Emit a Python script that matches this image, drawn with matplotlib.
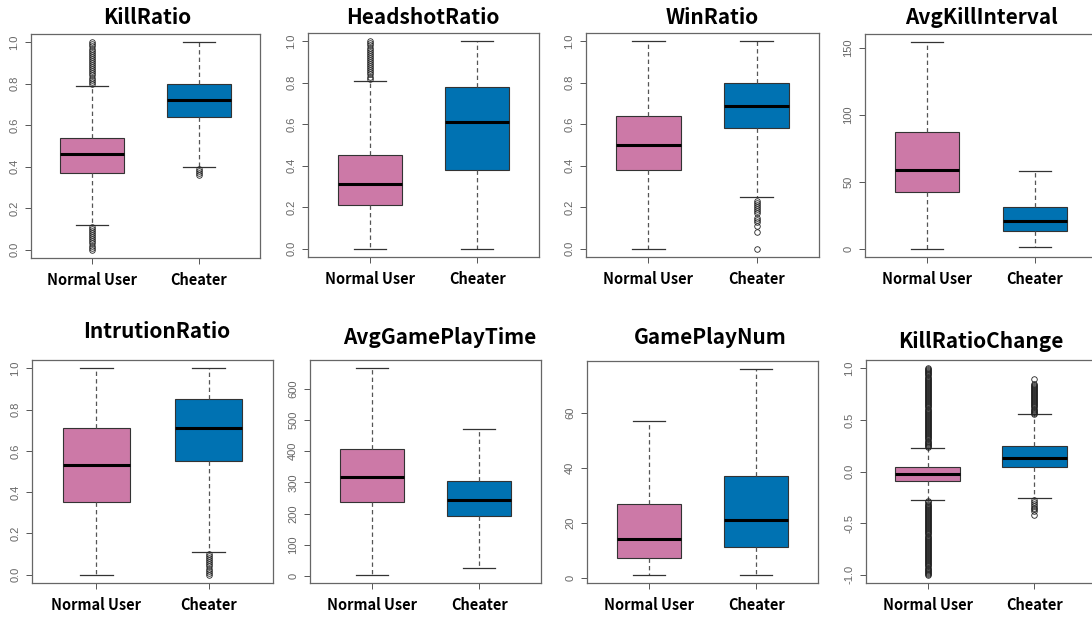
import matplotlib
matplotlib.use("Agg")
import matplotlib.pyplot as plt

plt.rcParams['font.family'] = ['Liberation Sans', 'DejaVu Sans']

W, H = 1092, 617
groups = ["Normal User", "Cheater"]
box_colors = ["#CC79A7", "#0072B2"]

# five-number summaries per group: whisker low, Q1, median, Q3, whisker high
kill_ratio = [[0.12, 0.37, 0.46, 0.54, 0.79], [0.40, 0.64, 0.72, 0.80, 1.00]]
headshot_ratio = [[0.00, 0.21, 0.31, 0.45, 0.81], [0.00, 0.38, 0.61, 0.78, 1.00]]
win_ratio = [[0.00, 0.38, 0.50, 0.64, 1.00], [0.25, 0.58, 0.69, 0.80, 1.00]]
avg_kill_interval = [[0, 42, 59, 87, 154], [1, 13, 21, 31, 58]]
intrution_ratio = [[0.00, 0.35, 0.53, 0.71, 1.00], [0.11, 0.55, 0.71, 0.85, 1.00]]
avg_game_play_time = [[5, 238, 316, 408, 665], [28, 193, 244, 305, 470]]
game_play_num = [[1, 7, 14, 27, 57], [1, 11, 21, 37, 76]]
kill_ratio_change = [[-0.28, -0.09, -0.02, 0.04, 0.23], [-0.26, 0.04, 0.13, 0.25, 0.555]]

# outliers per group
kill_ratio_out = [
    [0.00, 0.01, 0.02, 0.03, 0.04, 0.05, 0.06, 0.07, 0.08, 0.09, 0.10, 0.11,
     0.80, 0.81, 0.82, 0.83, 0.84, 0.85, 0.86, 0.87, 0.88, 0.89, 0.90,
     0.91, 0.92, 0.93, 0.94, 0.95, 0.96, 0.97, 0.98, 0.99, 1.00],
    [0.36, 0.37, 0.38, 0.39],
]
headshot_ratio_out = [
    [0.82, 0.83, 0.84, 0.85, 0.86, 0.87, 0.88, 0.89, 0.90, 0.91,
     0.92, 0.93, 0.94, 0.95, 0.96, 0.97, 0.98, 0.99, 1.00],
    [],
]
win_ratio_out = [
    [],
    [0.00, 0.08, 0.11, 0.13, 0.14, 0.15, 0.17, 0.18, 0.19, 0.20, 0.21, 0.22, 0.23],
]
avg_kill_interval_out = [[], []]
intrution_ratio_out = [
    [],
    [0.00, 0.01, 0.02, 0.03, 0.04, 0.05, 0.06, 0.07, 0.08, 0.09, 0.10],
]
avg_game_play_time_out = [[], []]
game_play_num_out = [[], []]
kill_ratio_change_out = [
    [-1.00, -0.99, -0.98, -0.97, -0.96, -0.95, -0.94, -0.93, -0.92, -0.91,
     -0.90, -0.89, -0.88, -0.87, -0.86, -0.85, -0.84, -0.83, -0.82, -0.81,
     -0.80, -0.79, -0.78, -0.77, -0.76, -0.75, -0.74, -0.73, -0.72, -0.71,
     -0.70, -0.69, -0.68, -0.67, -0.66, -0.65, -0.64, -0.63, -0.62, -0.61,
     -0.60, -0.59, -0.58, -0.57, -0.56, -0.55, -0.54, -0.53, -0.52, -0.51,
     -0.50, -0.49, -0.48, -0.47, -0.46, -0.45, -0.44, -0.43, -0.42, -0.41,
     -0.40, -0.39, -0.38, -0.37, -0.36, -0.35, -0.34, -0.33, -0.32, -0.31,
     -0.30, -0.29,
     0.24, 0.25, 0.26, 0.27, 0.28, 0.29, 0.30, 0.31, 0.32, 0.33,
     0.34, 0.35, 0.36, 0.37, 0.38, 0.39, 0.40, 0.41, 0.42, 0.43,
     0.44, 0.45, 0.46, 0.47, 0.48, 0.49, 0.50, 0.51, 0.52, 0.53,
     0.54, 0.55, 0.56, 0.57, 0.58, 0.59, 0.60, 0.61, 0.62, 0.63,
     0.64, 0.65, 0.66, 0.67, 0.68, 0.69, 0.70, 0.71, 0.72, 0.73,
     0.74, 0.75, 0.76, 0.77, 0.78, 0.79, 0.80, 0.81, 0.82, 0.83,
     0.84, 0.85, 0.86, 0.87, 0.88, 0.89, 0.90, 0.91, 0.92, 0.93,
     0.94, 0.95, 0.96, 0.97, 0.98, 0.99, 1.00],
    [-0.42, -0.38, -0.36, -0.35, -0.33, -0.31, -0.30, -0.28,
     0.56, 0.57, 0.58, 0.59, 0.60, 0.61, 0.62, 0.63, 0.64, 0.65, 0.66,
     0.67, 0.68, 0.69, 0.70, 0.71, 0.72, 0.73, 0.74, 0.75, 0.76, 0.77,
     0.78, 0.79, 0.80, 0.81, 0.82, 0.83, 0.84, 0.85, 0.90],
]

titles = ["KillRatio", "HeadshotRatio", "WinRatio", "AvgKillInterval",
          "IntrutionRatio", "AvgGamePlayTime", "GamePlayNum", "KillRatioChange"]
summaries = [kill_ratio, headshot_ratio, win_ratio, avg_kill_interval,
             intrution_ratio, avg_game_play_time, game_play_num, kill_ratio_change]
outliers = [kill_ratio_out, headshot_ratio_out, win_ratio_out, avg_kill_interval_out,
            intrution_ratio_out, avg_game_play_time_out, game_play_num_out,
            kill_ratio_change_out]
yticks = [
    [0, 0.2, 0.4, 0.6, 0.8, 1.0],
    [0, 0.2, 0.4, 0.6, 0.8, 1.0],
    [0, 0.2, 0.4, 0.6, 0.8, 1.0],
    [0, 50, 100, 150],
    [0, 0.2, 0.4, 0.6, 0.8, 1.0],
    [0, 100, 200, 300, 400, 500, 600],
    [0, 20, 40, 60],
    [-1.0, -0.5, 0.0, 0.5, 1.0],
]
ytick_fmt = ["{:.1f}", "{:.1f}", "{:.1f}", "{:g}", "{:.1f}", "{:g}", "{:g}", "{:.1f}"]

# panel frames in pixels: left, right, top, bottom
frames = [
    (31, 260, 34, 258), (308, 539, 33, 257), (586, 819, 33, 257), (865, 1097, 34, 257),
    (32, 273, 360, 583), (310, 541, 360, 583), (587, 818, 361, 583), (866, 1096, 360, 583),
]
title_pos = [(147, 17), (423, 17), (712, 17), (981, 17),
             (157, 332), (440, 338), (710, 338), (981, 342)]

fig = plt.figure(figsize=(W / 100, H / 100), dpi=100)

for i in range(8):
    l, r, t, b = frames[i]
    ax = fig.add_axes([l / W, 1 - b / H, (r - l) / W, (b - t) / H])
    stats = []
    for g in range(2):
        lo, q1, med, q3, hi = summaries[i][g]
        stats.append(dict(whislo=lo, q1=q1, med=med, q3=q3, whishi=hi,
                          fliers=outliers[i][g], label=groups[g]))
    parts = ax.bxp(stats, positions=[1, 2], widths=0.6, capwidths=0.3,
                   patch_artist=True, showfliers=True,
                   boxprops=dict(edgecolor="#333333", linewidth=0.8),
                   medianprops=dict(color="black", linewidth=2.2),
                   whiskerprops=dict(color="#555555", linewidth=0.9, linestyle=(0, (3.5, 2.5))),
                   capprops=dict(color="#333333", linewidth=0.9),
                   flierprops=dict(marker="o", markerfacecolor="none",
                                   markeredgecolor="#222222", markersize=4,
                                   markeredgewidth=0.6))
    for patch, c in zip(parts["boxes"], box_colors):
        patch.set_facecolor(c)

    # R-style range: data extent padded by 4%
    vals = []
    for g in range(2):
        vals += summaries[i][g] + outliers[i][g]
    lo, hi = min(vals), max(vals)
    pad = (hi - lo) * 0.04
    ax.set_ylim(lo - pad, hi + pad)
    ax.set_xlim(0.425, 2.575)

    ax.set_yticks(yticks[i])
    ax.set_yticklabels([ytick_fmt[i].format(v) for v in yticks[i]],
                       rotation=90, va="center", fontsize=8, color="#666666")
    ax.set_xticks([1, 2])
    ax.set_xticklabels(groups, fontsize=10.5, fontweight="bold",
                       family=["Noto Sans CJK KR", "DejaVu Sans"])
    ax.tick_params(axis="y", length=4, width=0.7, color="#555555", pad=4.5)
    ax.tick_params(axis="x", length=4.5, width=0.7, color="#555555", pad=5.5)
    for s in ax.spines.values():
        s.set_color("#666666")
        s.set_linewidth(0.9)

    tx, ty = title_pos[i]
    fig.text(tx / W, 1 - ty / H, titles[i], ha="center", va="center",
             fontsize=15, fontweight="bold", family=["Noto Sans CJK KR", "DejaVu Sans"])

fig.savefig("out.png", dpi=100, facecolor="white")
